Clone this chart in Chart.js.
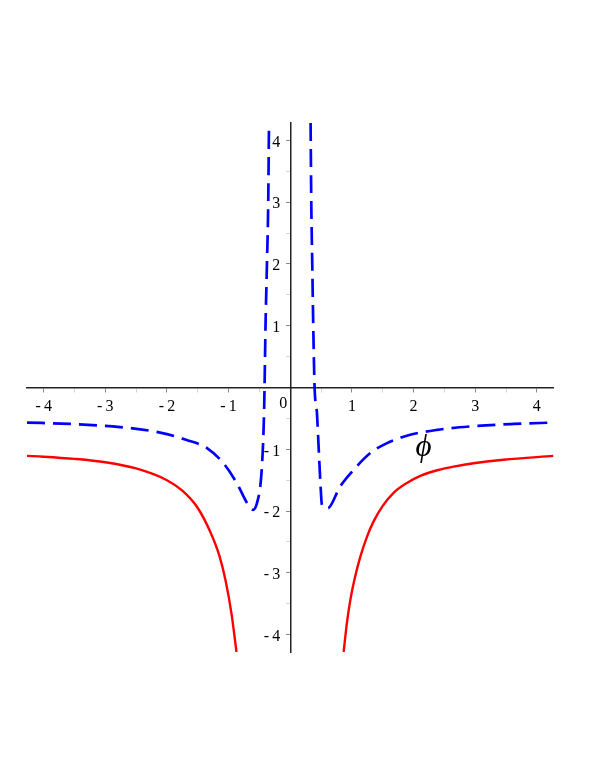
<!DOCTYPE html>
<html>
<head>
<meta charset="utf-8">
<style>
  html, body { margin: 0; padding: 0; background: #fff; }
  #wrap { width: 598px; height: 774px; }
</style>
<script src="https://cdn.jsdelivr.net/npm/chart.js@4/dist/chart.umd.min.js"></script>
</head>
<body>
<div id="wrap"><canvas id="c" width="598" height="774"></canvas></div>
<script>
// ---- data ----
const redLeftX  = [-4.27, -4.0, -3.5, -3.0, -2.5, -2.0, -1.75, -1.5, -1.3, -1.15, -1.05, -0.95, -0.872];
const redLeftY  = [-1.107, -1.12, -1.155, -1.21, -1.31, -1.50, -1.67, -1.95, -2.33, -2.72, -3.12, -3.68, -4.28];
const redRightX = [0.866, 0.92, 0.974, 1.05, 1.136, 1.25, 1.35, 1.5, 1.68, 1.9, 2.11, 2.4, 2.65, 3.0, 3.46, 4.27];
const redRightY = [-4.28, -3.80, -3.44, -3.07, -2.74, -2.40, -2.17, -1.915, -1.70, -1.54, -1.43, -1.335, -1.28, -1.222, -1.168, -1.107];

const blueLeftX  = [-4.27, -3.57, -2.76, -2.11, -1.68, -1.35, -1.08, -0.865, -0.70, -0.605, -0.54, -0.476, -0.443, -0.425, -0.417, -0.401, -0.378, -0.357, -0.345];
const blueLeftY  = [-0.567, -0.59, -0.64, -0.73, -0.85, -0.98, -1.23, -1.55, -1.87, -1.98, -1.87, -1.50, -0.96, -0.41, 0, 1, 2, 3, 4.28];
const blueRightX = [0.33, 0.341, 0.357, 0.373, 0.395, 0.433, 0.46, 0.487, 0.514, 0.606, 0.81, 1.03, 1.30, 1.57, 1.89, 2.38, 2.92, 3.63, 4.27];
const blueRightY = [4.28, 3, 2, 1, 0, -0.41, -0.96, -1.50, -1.90, -1.955, -1.60, -1.33, -1.06, -0.90, -0.78, -0.686, -0.63, -0.59, -0.567];

const xMajorTicks  = [-4, -3, -2, -1, 1, 2, 3, 4];
const xMajorLabels = ['-\u20094', '-\u20093', '-\u20092', '-\u20091', '1', '2', '3', '4'];
const xMinorTicks  = [-3.5, -2.5, -1.5, -0.5, 0.5, 1.5, 2.5, 3.5];
const yMajorTicks  = [-4, -3, -2, -1, 1, 2, 3, 4];
const yMajorLabels = ['-\u20094', '-\u20093', '-\u20092', '-\u20091', '1', '2', '3', '4'];
const yMinorTicks  = [-3.5, -2.5, -1.5, -0.5, 0.5, 1.5, 2.5, 3.5];
const originLabel  = '0';
const curveLabel   = '\u03D5';
const curveLabelAt = [2.16, -0.97];

const xRange = [-4.27, 4.27];
const yRange = [-4.28, 4.28];

function pts(xs, ys) { return xs.map((x, i) => ({ x: x, y: ys[i] })); }
function joined(a, b) { return a.concat([{ x: null, y: null }], b); }

const SERIF = "'Liberation Serif', 'DejaVu Serif', serif";

const labelPlugin = {
  id: 'labels',
  afterDraw(chart) {
    const ctx = chart.ctx;
    const xs = chart.scales.x, ys = chart.scales.y;
    const x0 = xs.getPixelForValue(0), y0 = ys.getPixelForValue(0);
    ctx.save();
    ctx.fillStyle = '#000';
    ctx.font = '16px ' + SERIF;
    ctx.textAlign = 'right';
    ctx.textBaseline = 'middle';
    yMajorTicks.forEach((v, i) => {
      ctx.fillText(yMajorLabels[i], x0 - 10, ys.getPixelForValue(v) + 2);
    });
    ctx.textAlign = 'center';
    ctx.fillText(originLabel, x0 - 7, y0 + 16);
    ctx.font = 'italic 31px ' + SERIF;
    ctx.fillText(curveLabel, xs.getPixelForValue(curveLabelAt[0]), ys.getPixelForValue(curveLabelAt[1]));
    ctx.restore();
  }
};

function tickColor(ctx) {
  const v = ctx.tick ? ctx.tick.value : 0;
  return Number.isInteger(v) ? '#8a8a8a' : '#d4d4d4';
}

new Chart(document.getElementById('c'), {
  type: 'scatter',
  data: {
    datasets: [
      {
        data: joined(pts(redLeftX, redLeftY), pts(redRightX, redRightY)),
        showLine: true, spanGaps: false,
        borderColor: '#ff0000', borderWidth: 2.4,
        pointRadius: 0, cubicInterpolationMode: 'monotone'
      },
      {
        data: joined(pts(blueLeftX, blueLeftY), pts(blueRightX, blueRightY)),
        showLine: true, spanGaps: false,
        borderColor: '#0000ff', borderWidth: 2.7, borderDash: [18, 8],
        pointRadius: 0, cubicInterpolationMode: 'monotone'
      }
    ]
  },
  options: {
    responsive: false,
    animation: false,
    events: [],
    layout: { padding: { left: 27, right: 44.5, top: 123, bottom: 122 } },
    plugins: { legend: { display: false }, tooltip: { enabled: false } },
    scales: {
      x: {
        type: 'linear',
        position: { y: 0 },
        min: xRange[0], max: xRange[1],
        afterBuildTicks: s => { s.ticks = xMajorTicks.concat(xMinorTicks).sort((a, b) => a - b).map(v => ({ value: v })); },
        ticks: {
          autoSkip: false, maxRotation: 0, minRotation: 0,
          padding: 6, color: '#000',
          font: { family: SERIF, size: 16 },
          callback: v => { const i = xMajorTicks.indexOf(v); return i >= 0 ? xMajorLabels[i] : ''; }
        },
        grid: { drawOnChartArea: false, drawTicks: true, tickLength: 4, tickColor: tickColor, tickWidth: 1 },
        border: { display: true, color: '#222', width: 1.5 }
      },
      y: {
        type: 'linear',
        position: { x: 0 },
        min: yRange[0], max: yRange[1],
        afterBuildTicks: s => { s.ticks = yMajorTicks.concat(yMinorTicks).sort((a, b) => a - b).map(v => ({ value: v })); },
        ticks: { display: false },
        grid: { drawOnChartArea: false, drawTicks: true, tickLength: 4, tickColor: tickColor, tickWidth: 1 },
        border: { display: true, color: '#222', width: 1.5 }
      }
    }
  },
  plugins: [labelPlugin]
});
</script>
</body>
</html>
